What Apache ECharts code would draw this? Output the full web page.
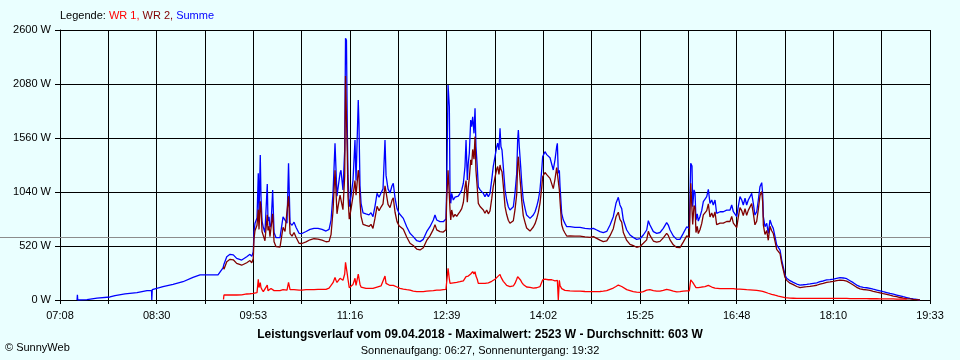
<!DOCTYPE html>
<html><head><meta charset="utf-8">
<script src="https://cdn.jsdelivr.net/npm/echarts@6/dist/echarts.min.js"></script>
<style>html,body{margin:0;padding:0;background:#eaffff;}#c{width:960px;height:360px;}</style>
</head><body><div id="c"></div>
<script>
// time axis: minutes since midnight, 07:08 .. 19:33
const T0 = 428, T1 = 1173;
const xTickLabels = ['07:08','08:30','09:53','11:16','12:39','14:02','15:25','16:48','18:10','19:33'];
const yMax = 2600, yStep = 520;
const average = 603;
const titleText = 'Leistungsverlauf vom 09.04.2018 - Maximalwert: 2523 W - Durchschnitt: 603 W';
const subText = 'Sonnenaufgang: 06:27, Sonnenuntergang: 19:32';

const times = [
442.6,442.9,443.2,451.1,459.7,470.8,475.1,483.7,493.9,502.5,
506.4,506.6,507.0,507.6,516.2,524.8,533.3,541.9,547.9,563.3,
565.0,567.6,568.0,568.4,570.8,573.6,576.4,579.3,583.6,587.9,
590.7,592.2,593.5,594.1,595.0,596.7,597.8,598.4,599.5,600.1,
601.0,602.1,603.5,605.5,606.1,607.0,607.8,608.7,610.1,611.3,
613.0,616.4,619.0,620.7,622.4,623.7,625.0,626.7,628.4,630.1,
632.7,635.2,638.7,642.1,645.5,648.9,652.4,655.8,658.4,660.1,
661.8,663.5,664.3,665.2,666.1,667.8,668.6,670.3,671.8,672.5,
673.3,674.0,674.6,675.7,677.2,678.9,680.6,681.5,683.4,684.0,
684.9,685.8,687.5,690.0,692.6,694.3,696.0,697.7,699.5,701.2,
702.9,704.6,706.3,707.2,708.9,710.6,712.3,713.4,714.9,716.6,
718.3,719.1,722.0,724.9,727.7,730.5,733.5,736.3,739.1,742.0,
744.8,747.7,749.1,750.6,753.4,756.2,758.5,759.1,760.3,761.4,
762.0,762.6,763.4,764.8,766.3,767.7,769.1,770.5,772.0,773.4,
774.8,775.7,776.8,777.6,778.5,779.7,780.5,781.4,782.5,783.4,
784.2,785.3,786.2,787.7,789.1,790.5,791.9,793.4,794.8,796.2,
797.7,799.0,800.5,802.0,802.8,803.9,804.8,805.6,806.5,807.6,
809.1,810.5,811.9,813.3,814.8,816.2,817.6,819.1,819.9,820.5,
821.3,822.5,823.4,824.7,826.2,827.6,830.5,831.9,833.3,834.8,
836.2,837.6,839.0,840.5,841.3,842.5,843.3,844.8,846.1,847.6,
849.1,850.4,851.9,853.3,853.9,854.7,855.6,856.2,857.6,859.0,
860.4,861.9,864.7,869.0,873.3,877.6,881.9,884.7,887.6,890.4,
893.2,896.2,899.0,901.8,904.1,906.1,907.5,909.0,910.4,913.3,
916.1,918.9,921.8,924.7,927.5,930.4,931.8,933.2,936.1,939.0,
941.8,944.6,947.5,948.9,950.4,953.2,956.1,958.9,961.7,964.7,
966.9,968.1,969.2,969.8,970.9,971.8,972.6,973.7,974.6,976.0,
977.5,978.9,980.3,981.8,983.2,984.6,986.1,987.4,988.9,990.3,
993.2,996.0,998.9,1001.7,1003.2,1004.6,1007.5,1008.8,1010.3,1011.8,
1013.1,1014.6,1016.0,1017.4,1018.9,1020.3,1021.7,1023.1,1024.6,1026.0,
1027.4,1028.9,1029.7,1030.3,1031.7,1033.2,1034.5,1036.0,1037.4,1038.8,
1040.3,1041.7,1043.1,1044.6,1046.0,1047.4,1048.8,1050.3,1053.1,1055.9,
1058.9,1061.7,1064.5,1067.4,1070.2,1073.1,1076.0,1078.8,1081.6,1084.5,
1087.4,1090.2,1093.1,1095.9,1098.8,1101.7,1104.5,1107.3,1110.2,1113.1,
1115.9,1118.8,1121.6,1124.4,1127.4,1130.2,1133.0,1135.9,1138.7,1141.6,
1144.5,1147.3,1150.1,1153.0,1155.9,1158.7,1161.6,1164.4
];

const summe = [
0,50,0,3,19,29,42,58,71,90,
90,0,100,112,128,151,176,218,241,241,
257,310,325,345,417,440,435,401,385,417,
440,420,462,650,740,790,1220,800,1396,1000,
760,700,650,1117,760,800,700,720,1059,650,
600,600,800,770,740,1316,740,720,750,700,
642,640,660,680,690,690,680,664,680,770,
1027,1509,1525,1000,1080,1220,1250,1060,1444,2520,
2500,1669,1200,898,1000,1150,1541,1150,1926,1700,
1100,931,840,830,820,840,802,900,1027,990,
1030,1070,1541,1200,1070,1030,1100,1124,980,880,
835,835,786,706,642,610,571,562,584,658,
706,770,818,770,754,754,780,1060,2070,1861,
1027,931,1027,963,990,975,1000,1027,1060,1124,
1284,1541,1156,1316,1413,1733,1670,1765,1605,1846,
1477,1284,1091,1060,1043,1027,995,1027,995,1027,
1156,1284,1380,1476,1510,1445,1653,1476,1445,1284,
1059,963,898,867,867,898,1027,1220,1541,1637,
1476,1284,1124,963,883,818,786,786,818,850,
900,963,1059,1252,1380,1380,1428,1400,1410,1370,
1380,1252,1350,1476,1509,1220,1250,1092,835,770,
738,706,706,700,700,690,684,690,674,658,
648,660,722,802,931,989,915,880,770,674,
626,603,584,590,626,674,764,722,658,642,
650,690,745,722,674,616,584,584,642,706,
690,1316,1290,898,1060,1030,770,830,760,802,
860,947,930,995,1065,930,963,915,963,835,
850,850,865,865,915,850,802,900,995,963,
915,980,915,963,995,1027,930,818,850,963,
1091,1130,1027,802,706,738,640,770,722,690,
610,530,514,481,385,315,241,209,186,170,
154,144,147,151,155,160,165,176,183,193,
197,202,209,215,212,205,186,167,144,128,
122,118,112,104,96,88,80,72,64,56,
48,40,32,24,16,10,5,0
];

const n = null;
const wr1 = [
n,n,n,n,n,n,n,n,n,n,
n,n,n,n,n,n,n,n,n,n,
n,n,5,48,48,48,48,48,50,58,
60,61,64,64,70,70,199,120,167,120,
100,80,80,144,90,90,90,110,128,90,
87,90,100,110,95,170,100,105,100,96,
96,96,100,100,100,103,103,103,115,140,
167,218,190,170,180,209,220,190,250,363,
355,250,200,119,125,150,209,140,250,240,
150,125,112,112,112,112,112,115,125,130,
135,145,231,160,150,140,140,140,135,125,
119,112,105,100,96,85,80,80,80,85,
88,90,92,95,95,100,103,103,305,200,
160,160,160,165,165,170,170,176,180,185,
200,225,215,230,241,250,260,273,250,273,
230,200,160,160,160,160,160,160,165,170,
180,193,200,215,225,235,247,220,210,180,
160,140,130,128,128,135,160,200,225,241,
225,190,170,150,135,125,122,118,115,115,
118,120,128,170,193,193,200,193,195,199,
195,180,185,200,190,0,190,140,110,96,
93,90,88,85,85,82,80,80,80,82,
85,90,103,115,130,144,138,130,120,100,
90,80,76,74,80,95,103,100,90,85,
85,92,103,100,95,85,78,80,85,88,
88,193,180,170,150,140,120,120,120,125,
125,128,128,135,140,130,125,120,115,110,
110,109,109,109,110,109,105,105,105,103,
103,100,100,100,98,98,96,94,92,90,
88,85,82,80,75,70,65,60,55,50,
46,42,38,34,30,26,22,20,18,17,
16,16,15,15,15,15,15,15,15,15,
15,15,15,15,15,15,14,14,14,13,
13,13,12,12,12,11,11,10,10,10,
9,9,8,8,n,n,n,n
];

const wr2 = [
n,n,n,n,n,n,n,n,n,n,
n,n,n,n,n,n,n,n,n,n,
n,n,320,297,369,392,387,353,335,359,
380,359,398,586,670,720,870,680,950,880,
660,620,570,820,670,710,610,610,830,560,
513,510,700,660,645,1000,640,615,650,604,
546,544,560,580,590,587,577,561,565,630,
860,1250,1250,830,900,1011,1030,870,1194,2157,
2145,1419,1000,779,875,1000,1150,1010,1250,1200,
950,806,728,718,708,728,690,785,902,860,
895,925,1100,1040,920,890,960,984,845,755,
716,723,681,606,546,525,491,482,504,573,
618,680,726,675,659,654,677,957,1250,1250,
867,771,867,798,825,805,830,851,880,939,
1084,1150,941,1086,1172,1350,1300,1450,1355,1573,
1247,1084,931,900,883,867,835,867,830,857,
976,1091,1180,1261,1285,1210,1300,1256,1235,1104,
899,823,768,739,739,763,867,1020,1316,1380,
1251,1094,954,813,748,693,664,668,703,735,
782,843,931,1082,1187,1187,1228,1207,1215,1171,
1185,1072,1165,1276,1220,1220,1060,952,725,674,
645,616,618,615,615,608,604,610,594,576,
563,570,619,687,801,845,777,750,650,574,
536,523,508,516,546,579,661,622,568,557,
565,598,642,622,579,531,506,504,557,618,
602,1123,1110,728,910,890,650,710,640,677,
735,819,802,860,925,800,838,795,848,725,
740,741,756,756,805,741,697,795,890,860,
812,880,815,863,897,929,834,724,758,873,
1003,1045,945,722,631,668,575,710,667,640,
564,488,476,447,355,289,219,189,162,148,
130,120,124,128,132,137,142,153,160,170,
174,179,186,192,189,182,164,145,122,107,
101,97,92,84,76,69,61,54,46,38,
32,24,18,12,10,6,3,0
];

const FONT = '"Liberation Sans", Arial, sans-serif';
const STEP = (T1 - T0) / 18;
function pts(vals) { return times.map((t, i) => [t - T0, vals[i]]); }

const chart = echarts.init(document.getElementById('c'), null, {renderer: 'canvas'});
chart.setOption({
  animation: false,
  backgroundColor: '#eaffff',
  grid: {left: 60, right: 30, top: 30, bottom: 60, containLabel: false},
  title: [
    {text: titleText, left: 'center', top: 329, padding: 0,
     textStyle: {fontSize: 12, fontWeight: 'bold', color: '#000', fontFamily: FONT}},
    {text: subText, left: 'center', top: 345, padding: 0,
     textStyle: {fontSize: 11, fontWeight: 'normal', color: '#000', fontFamily: FONT}}
  ],
  xAxis: {
    type: 'value', min: 0, max: T1 - T0, interval: STEP,
    axisLine: {show: true, lineStyle: {color: '#000', width: 1}},
    axisTick: {show: true, length: 4, lineStyle: {color: '#000'}},
    splitLine: {show: true, lineStyle: {color: '#000', width: 1}},
    axisLabel: {color: '#000', fontSize: 11, fontFamily: FONT, margin: 10,
      showMinLabel: true, showMaxLabel: true,
      formatter: function (v) {
        const i = Math.round(v / STEP);
        return i % 2 === 0 ? (xTickLabels[i / 2] || '') : '';
      }}
  },
  yAxis: {
    type: 'value', min: 0, max: yMax, interval: yStep,
    axisLine: {show: true, lineStyle: {color: '#000', width: 1}},
    axisTick: {show: true, length: 5, lineStyle: {color: '#000'}},
    splitLine: {show: true, lineStyle: {color: '#000', width: 1}},
    axisLabel: {color: '#000', fontSize: 11, fontFamily: FONT, margin: 9,
      formatter: function (v) { return v + ' W'; }}
  },
  series: [
    {name: 'Summe', type: 'line', data: pts(summe), showSymbol: false, connectNulls: false,
     lineStyle: {color: '#0000ff', width: 1.3}, itemStyle: {color: '#0000ff'}, z: 3},
    {name: 'WR 2', type: 'line', data: pts(wr2), showSymbol: false, connectNulls: false,
     lineStyle: {color: '#800000', width: 1.3}, itemStyle: {color: '#800000'}, z: 4},
    {name: 'WR 1', type: 'line', data: pts(wr1), showSymbol: false, connectNulls: false,
     lineStyle: {color: '#ff0000', width: 1.3}, itemStyle: {color: '#ff0000'}, z: 5}
  ]
});

const yAvg = Math.round(chart.convertToPixel({yAxisIndex: 0}, average)) + 0.5;
const xEnd = chart.convertToPixel({xAxisIndex: 0}, T1 - T0);
chart.setOption({
  graphic: [
    {type: 'line', z: 2, silent: true,
     shape: {x1: 0, y1: yAvg, x2: xEnd, y2: yAvg},
     style: {stroke: '#8c8c8c', lineWidth: 1}},
    {type: 'text', left: 60, top: 10, z: 10,
     style: {text: '{k|Legende: }{a|WR 1, }{b|WR 2, }{c|Summe}',
       font: '11px ' + FONT,
       rich: {k: {fill: '#000', fontSize: 11, fontFamily: FONT},
              a: {fill: '#ff0000', fontSize: 11, fontFamily: FONT},
              b: {fill: '#800000', fontSize: 11, fontFamily: FONT},
              c: {fill: '#0000ff', fontSize: 11, fontFamily: FONT}}}},
    {type: 'text', left: 5, top: 342, z: 10,
     style: {text: '\u00a9 SunnyWeb', font: '11px ' + FONT, fill: '#000'}}
  ]
});
</script>
</body></html>
